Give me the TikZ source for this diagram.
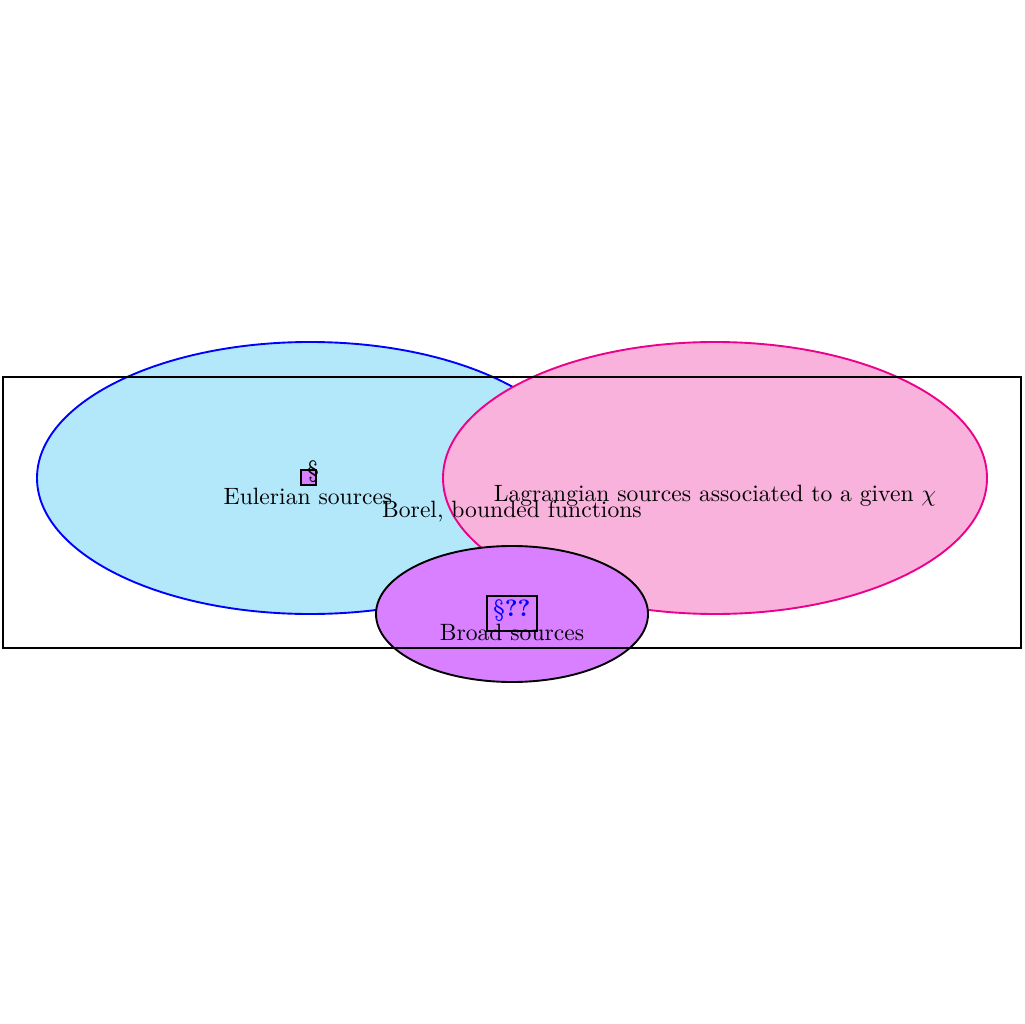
\documentclass[tikz,border=0pt]{standalone}
\usepackage{amsmath}
\begin{document}
\begin{tikzpicture}[x=0.4237pt,y=-0.4237pt,
  setline/.style={line width=0.8pt},
  lbl/.style={inner sep=0pt, font=\normalsize}]
\definecolor{eulfill}{RGB}{178,232,250}
\definecolor{lagfill}{RGB}{248,178,220}
\definecolor{lagline}{RGB}{236,0,140}
\definecolor{brfill}{RGB}{216,128,255}
\useasboundingbox (0,0) rectangle (1024,1024);
% ellipses
\draw[setline, blue, fill=eulfill] (310,478) ellipse [x radius=273, y radius=136];
\draw[setline, lagline, fill=lagfill] (715,478) ellipse [x radius=272, y radius=136];
\draw[setline, black, fill=brfill] (512,614) ellipse [x radius=136, y radius=68];
% rectangle
\node[setline, draw, minimum width=1018*0.4237pt, minimum height=271*0.4237pt, inner sep=0pt] (borel) at (512,512.5) {};
\node[lbl] (borellbl) at (512,511) {Borel, bounded functions};
% labels
\node[lbl] (eul) at (308,496) {Eulerian sources};
\node[lbl] (lag) at (715,496) {Lagrangian sources associated to a given $\chi$};
\node[setline, draw, fill=brfill, minimum width=15*0.4237pt, minimum height=15*0.4237pt, inner sep=0pt] (eulbox) at (308.5,477.5) {};
\node[lbl] (eulsec) at (313,472) {\S};
\node[setline, draw, fill=brfill, minimum width=50*0.4237pt, minimum height=35*0.4237pt, inner sep=0pt] (brbox) at (512,613.5) {};
\node[lbl, text=blue] (brsec) at (512,611) {\S\textbf{??}};
\node[lbl] (br) at (512,632) {Broad sources};
\end{tikzpicture}
\end{document}
